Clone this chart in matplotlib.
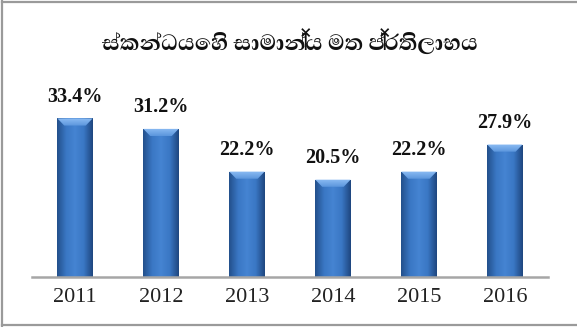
import matplotlib
matplotlib.use("Agg")
import matplotlib.pyplot as plt
import numpy as np
from matplotlib.colors import LinearSegmentedColormap
from matplotlib.patches import Polygon
from matplotlib.lines import Line2D

# chart data
years = ["2011", "2012", "2013", "2014", "2015", "2016"]
returns = [33.4, 31.2, 22.2, 20.5, 22.2, 27.9]
title = "ස්කන්ධයෙහි සාමාන්‍ය මත ප්‍රතිලාභය"

sinhala_fonts = ["Abhaya Libre", "Noto Sans Sinhala", "DejaVu Sans"]
serif = "Liberation Serif"

fig = plt.figure(figsize=(5.77, 3.27), dpi=100)
ax = fig.add_axes([0.0555, 0.1529, 0.894, 0.6025])

x = np.arange(len(years))
bar_w = 0.41
bars = ax.bar(x, returns, width=bar_w, color="#3b78c6", edgecolor="none", zorder=2)

# horizontal shading across each bar, plus a light bevel on top
shade = LinearSegmentedColormap.from_list(
    "shade", ["#23508c", "#3a77c4", "#4584d2", "#3a77c4", "#1f4780"])
bevel = LinearSegmentedColormap.from_list("bevel", ["#5b95dc", "#8cbdf4"])
grad = np.linspace(0, 1, 64).reshape(1, -1)
vgrad = np.linspace(0, 1, 32).reshape(-1, 1)
bevel_h = 1.5
bevel_d = 0.08
for b in bars:
    x0, w, h = b.get_x(), b.get_width(), b.get_height()
    im = ax.imshow(grad, cmap=shade, aspect="auto", zorder=3,
                   extent=[x0, x0 + w, 0, h])
    im.set_clip_path(b)
    top = Polygon([[x0, h], [x0 + w, h], [x0 + w - bevel_d, h - bevel_h],
                   [x0 + bevel_d, h - bevel_h]], closed=True,
                  facecolor="none", edgecolor="none", zorder=4)
    ax.add_patch(top)
    bim = ax.imshow(vgrad, cmap=bevel, aspect="auto", zorder=4, origin="lower",
                    extent=[x0, x0 + w, h - bevel_h, h])
    bim.set_clip_path(top)
    ax.annotate(f"{h:.1f}%", (x0 + w / 2, h), xytext=(0, 8.5),
                textcoords="offset points", ha="center", va="bottom",
                fontsize=14.5, fontweight="bold", family=serif, color="#111111")

ax.set_xlim(-0.5, len(years) - 0.5)
ax.set_ylim(0, 41.5)
ax.set_xticks(x)
ax.set_xticklabels(years, fontsize=16, family=serif, color="#222222")
ax.tick_params(axis="x", length=0, pad=8)
ax.set_yticks([])
for s in ["left", "right", "top"]:
    ax.spines[s].set_visible(False)
ax.spines["bottom"].set_color("#a6a6a6")
ax.spines["bottom"].set_linewidth(1.8)
ax.spines["bottom"].set_zorder(5)

fig.text(0.503, 0.872, title, ha="center", va="center", fontsize=20,
         fontweight="bold", family=sinhala_fonts, color="#111111")

# outer frame (left, top, bottom)
for xs, ys in [([0.003, 0.003], [0.0, 0.997]), ([0.003, 1.0], [0.995, 0.995]),
               ([0.003, 1.0], [0.005, 0.005])]:
    fig.add_artist(Line2D(xs, ys, transform=fig.transFigure, color="#9a9a9a", lw=1.6))

fig.savefig("out.png", dpi=100)
